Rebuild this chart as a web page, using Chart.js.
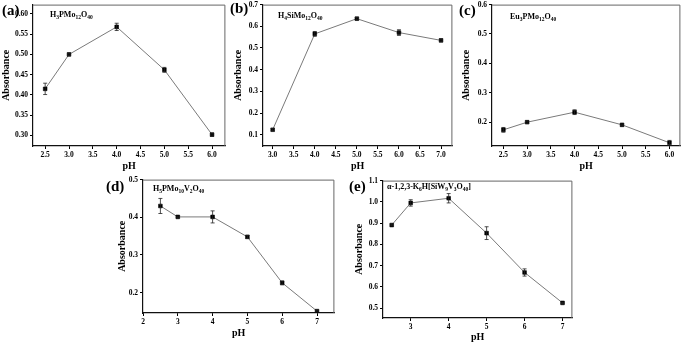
<!DOCTYPE html>
<html>
<head>
<meta charset="utf-8">
<script src="https://cdn.jsdelivr.net/npm/chart.js@4.4.0/dist/chart.umd.min.js"></script>
<style>
  body { margin: 0; background: #fff; width: 685px; height: 346px; position: relative; overflow: hidden; }
  canvas { position: absolute; }
  .tag { position: absolute; font: bold 15px 'Liberation Serif', serif; line-height: 15px; color: #000; }
  .cmp { position: absolute; font: bold 8px 'Liberation Serif', serif; line-height: 8px; color: #000; white-space: nowrap; }
  .cmp sub { font-size: 5.5px; vertical-align: -2px; line-height: 0; }
</style>
</head>
<body>
<canvas id="pa" width="230" height="172" style="left:0px;top:0px"></canvas>
<canvas id="pb" width="225" height="172" style="left:232px;top:0px"></canvas>
<canvas id="pc" width="225" height="172" style="left:460px;top:0px"></canvas>
<canvas id="pd" width="223" height="164" style="left:116px;top:175px"></canvas>
<canvas id="pe" width="224" height="167" style="left:353px;top:176px"></canvas>

<div class="tag" style="left:2px;top:3px">(a)</div>
<div class="tag" style="left:230px;top:1px">(b)</div>
<div class="tag" style="left:459px;top:3px">(c)</div>
<div class="tag" style="left:106px;top:179px">(d)</div>
<div class="tag" style="left:349px;top:179px">(e)</div>

<div class="cmp" style="left:50px;top:11px">H<sub>3</sub>PMo<sub>12</sub>O<sub>40</sub></div>
<div class="cmp" style="left:278px;top:12px">H<sub>4</sub>SiMo<sub>12</sub>O<sub>40</sub></div>
<div class="cmp" style="left:510px;top:13px">Eu<sub>3</sub>PMo<sub>12</sub>O<sub>40</sub></div>
<div class="cmp" style="left:153px;top:185px">H<sub>5</sub>PMo<sub>10</sub>V<sub>2</sub>O<sub>40</sub></div>
<div class="cmp" style="left:387px;top:183px">α-1,2,3-K<sub>6</sub>H[SiW<sub>9</sub>V<sub>3</sub>O<sub>40</sub>]</div>

<script>
// (a) H3PMo12O40
const phA = [2.5, 3.0, 4.0, 5.0, 6.0];
const absA = [0.415, 0.500, 0.568, 0.462, 0.302];
const errA = [0.014, 0.003, 0.009, 0.006, 0.004];
const xTicksA = [2.5, 3.0, 3.5, 4.0, 4.5, 5.0, 5.5, 6.0];
const yTicksA = [0.30, 0.35, 0.40, 0.45, 0.50, 0.55, 0.60];

// (b) H4SiMo12O40
const phB = [3.0, 4.0, 5.0, 6.0, 7.0];
const absB = [0.123, 0.565, 0.635, 0.571, 0.535];
const errB = [0.005, 0.011, 0.006, 0.013, 0.006];
const xTicksB = [3.0, 3.5, 4.0, 4.5, 5.0, 5.5, 6.0, 6.5, 7.0];
const yTicksB = [0.1, 0.2, 0.3, 0.4, 0.5, 0.6, 0.7];

// (c) Eu3PMo12O40
const phC = [2.5, 3.0, 4.0, 5.0, 6.0];
const absC = [0.174, 0.200, 0.234, 0.191, 0.130];
const errC = [0.008, 0.004, 0.008, 0.003, 0.008];
const xTicksC = [2.5, 3.0, 3.5, 4.0, 4.5, 5.0, 5.5, 6.0];
const yTicksC = [0.2, 0.3, 0.4, 0.5, 0.6];

// (d) H5PMo10V2O40
const phD = [2.5, 3, 4, 5, 6, 7];
const absD = [0.430, 0.401, 0.401, 0.348, 0.226, 0.151];
const errD = [0.020, 0.002, 0.016, 0.004, 0.005, 0.002];
const xTicksD = [2, 3, 4, 5, 6, 7];
const yTicksD = [0.2, 0.3, 0.4, 0.5];

// (e) a-1,2,3-K6H[SiW9V3O40]
const phE = [2.5, 3, 4, 5, 6, 7];
const absE = [0.891, 0.995, 1.017, 0.853, 0.668, 0.525];
const errE = [0.004, 0.015, 0.022, 0.030, 0.017, 0.003];
const xTicksE = [3, 4, 5, 6, 7];
const yTicksE = [0.5, 0.6, 0.7, 0.8, 0.9, 1.0, 1.1];

Chart.defaults.font.family = "'Liberation Serif', 'Times New Roman', serif";
Chart.defaults.font.weight = 'bold';
Chart.defaults.color = '#000';

// error bars + top/right frame
const extras = {
    id: 'extras',
    afterDatasetsDraw(chart) {
        const ctx = chart.ctx;
        const xs = chart.scales.x, ys = chart.scales.y;
        const ph = chart.config.options.ph, ab = chart.config.options.ab, er = chart.config.options.er;
        ctx.save();
        ctx.strokeStyle = '#222';
        ctx.lineWidth = 0.8;
        ph.forEach((p, i) => {
            const x = xs.getPixelForValue(p);
            const y1 = ys.getPixelForValue(ab[i] + er[i]);
            const y2 = ys.getPixelForValue(ab[i] - er[i]);
            ctx.beginPath();
            ctx.moveTo(x, y1); ctx.lineTo(x, y2);
            ctx.moveTo(x - 2, y1); ctx.lineTo(x + 2, y1);
            ctx.moveTo(x - 2, y2); ctx.lineTo(x + 2, y2);
            ctx.stroke();
        });
        const a = chart.chartArea;
        ctx.strokeStyle = '#666';
        ctx.lineWidth = 1;
        ctx.beginPath();
        ctx.moveTo(a.left, a.top + 0.5);
        ctx.lineTo(a.right - 0.5, a.top + 0.5);
        ctx.lineTo(a.right - 0.5, a.bottom);
        ctx.stroke();
        ctx.restore();
    }
};

function panel(id, ph, ab, er, xTicks, yTicks, xr, yr, yW, xH, xDec, yDec) {
    new Chart(document.getElementById(id), {
        type: 'line',
        data: {
            datasets: [{
                data: ph.map((p, i) => ({x: p, y: ab[i]})),
                borderColor: '#7a7a7a',
                borderWidth: 1,
                pointStyle: 'rect',
                pointRadius: 2.6,
                pointBackgroundColor: '#000',
                pointBorderColor: '#000',
                pointBorderWidth: 0.6
            }]
        },
        options: {
            ph: ph, ab: ab, er: er,
            responsive: false,
            devicePixelRatio: 1,
            animation: false,
            layout: {padding: {top: 3, right: 1, left: 0, bottom: 0}},
            plugins: {legend: {display: false}, tooltip: {enabled: false}},
            scales: {
                x: {
                    type: 'linear', min: xr[0], max: xr[1],
                    afterBuildTicks: s => { s.ticks = xTicks.map(v => ({value: v})); },
                    afterFit: s => { s.height = xH; s.paddingLeft = 0; s.paddingRight = 0; },
                    grid: {drawOnChartArea: false, tickLength: 3, color: '#000'},
                    border: {color: '#111', width: 1.2},
                    ticks: {font: {size: 7.5, weight: 'bold'}, padding: 2, maxRotation: 0,
                        callback: v => v.toFixed(xDec)},
                    title: {display: true, text: 'pH', font: {size: 10, weight: 'bold'}, padding: 0}
                },
                y: {
                    type: 'linear', min: yr[0], max: yr[1],
                    afterBuildTicks: s => { s.ticks = yTicks.map(v => ({value: v})); },
                    afterFit: s => { s.width = yW; s.paddingTop = 0; s.paddingBottom = 0; },
                    grid: {drawOnChartArea: false, tickLength: 3, color: '#000'},
                    border: {color: '#111', width: 1.2},
                    ticks: {font: {size: 7.5, weight: 'bold'}, padding: 2,
                        callback: v => v.toFixed(yDec)},
                    title: {display: true, text: 'Absorbance', font: {size: 10, weight: 'bold'}, padding: 0}
                }
            }
        },
        plugins: [extras]
    });
}

panel('pa', phA, absA, errA, xTicksA, yTicksA, [2.245, 6.28], [0.274, 0.623], 33, 26, 1, 2);
panel('pb', phB, absB, errB, xTicksB, yTicksB, [2.77, 7.27], [0.048, 0.70], 31, 26, 1, 1);
panel('pc', phC, absC, errC, xTicksC, yTicksC, [2.26, 6.23], [0.119, 0.60], 32, 26, 1, 1);
panel('pd', phD, absD, errD, xTicksD, yTicksD, [2.0, 7.5], [0.146, 0.50], 27, 26, 0, 1);
panel('pe', phE, absE, errE, xTicksE, yTicksE, [2.27, 7.26], [0.454, 1.10], 30, 25, 0, 1);
</script>
</body>
</html>
